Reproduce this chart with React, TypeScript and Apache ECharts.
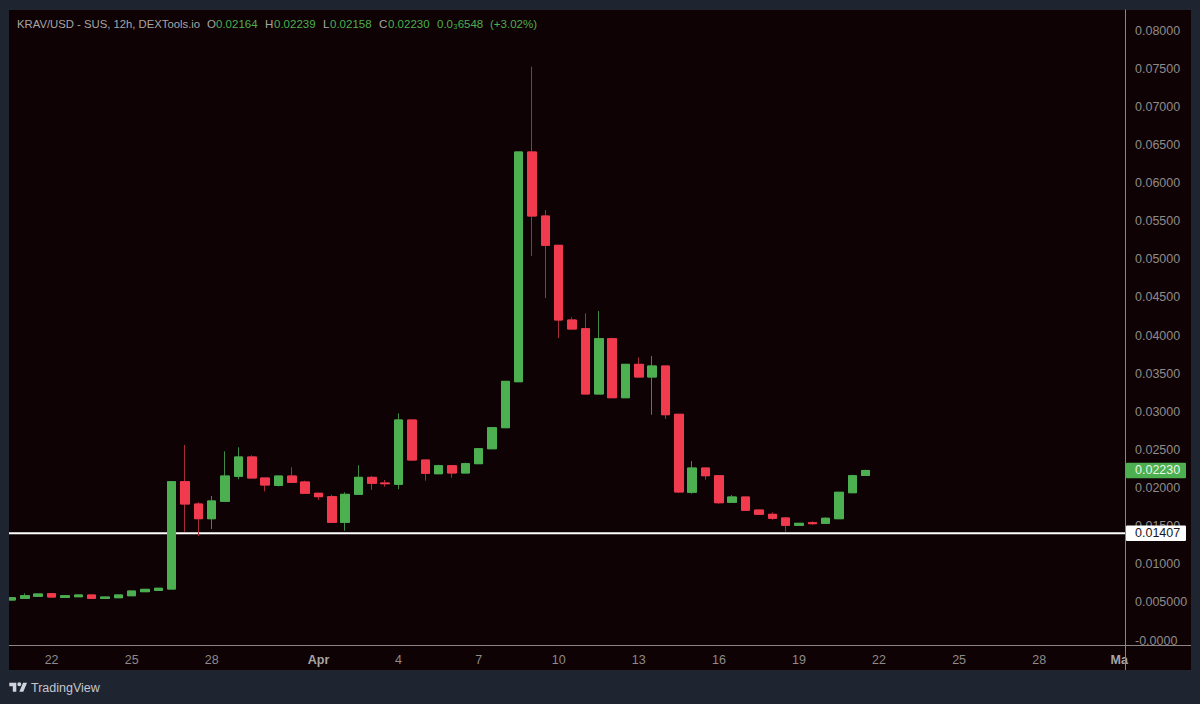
import React, { useEffect, useRef } from "react";
import * as echarts from "echarts";

const opens = [
  0.00531, 0.00553, 0.0058, 0.00614, 0.00566, 0.00574, 0.00597, 0.00553, 0.00561, 0.00587, 0.0064, 0.00658, 0.00675,
  0.02083, 0.0179, 0.01597, 0.01826, 0.02154, 0.02407, 0.02131, 0.02034, 0.02157, 0.02079, 0.01931, 0.01886, 0.0155,
  0.01917, 0.0214, 0.02066, 0.02049, 0.02892, 0.02367, 0.02187, 0.02292, 0.02197, 0.02319, 0.02515, 0.02791, 0.03394,
  0.06407, 0.05567, 0.05183, 0.04203, 0.04089, 0.03233, 0.03958, 0.03184, 0.03622, 0.03456, 0.036, 0.02967, 0.01944,
  0.02262, 0.02161, 0.01813, 0.01882, 0.01711, 0.01655, 0.01607, 0.01511, 0.01545, 0.01537, 0.01597, 0.01938, 0.02164,
];
const closes = [
  0.00561, 0.00587, 0.0061, 0.0057, 0.00587, 0.00597, 0.00553, 0.0057, 0.00597, 0.00649, 0.00671, 0.00685, 0.02083,
  0.0179, 0.01597, 0.0183, 0.02157, 0.02407, 0.02131, 0.02039, 0.02157, 0.02075, 0.01931, 0.01886, 0.0155, 0.01917,
  0.0214, 0.02062, 0.02056, 0.02892, 0.02367, 0.02193, 0.02292, 0.02197, 0.02319, 0.02515, 0.02791, 0.03399, 0.06407,
  0.05567, 0.05183, 0.04203, 0.04085, 0.03233, 0.03958, 0.03184, 0.03622, 0.03456, 0.036, 0.02961, 0.01948, 0.02262,
  0.02161, 0.01807, 0.01882, 0.01708, 0.01655, 0.01603, 0.01511, 0.01537, 0.01532, 0.01603, 0.01944, 0.02161, 0.0223,
];
const lows = [
  0.00531, 0.00553, 0.0058, 0.0057, 0.00566, 0.00574, 0.00553, 0.00553, 0.00561, 0.00587, 0.0064, 0.00658, 0.00675,
  0.01427, 0.0137, 0.01462, 0.01826, 0.02114, 0.02131, 0.01957, 0.0202, 0.02075, 0.01931, 0.01843, 0.0155, 0.0144,
  0.01917, 0.01974, 0.02017, 0.01983, 0.02354, 0.02096, 0.02187, 0.02135, 0.02197, 0.02319, 0.02515, 0.02791, 0.03394,
  0.05043, 0.04492, 0.03967, 0.04085, 0.03233, 0.03233, 0.03184, 0.03184, 0.03456, 0.02961, 0.02905, 0.01934, 0.01925,
  0.02109, 0.01793, 0.01813, 0.01708, 0.01655, 0.01584, 0.01427, 0.01511, 0.01519, 0.01537, 0.01597, 0.01938, 0.02158,
];
const highs = [
  0.00561, 0.00619, 0.0061, 0.00614, 0.00587, 0.00597, 0.00597, 0.0057, 0.00597, 0.00649, 0.00671, 0.00685, 0.02083,
  0.02564, 0.01816, 0.01895, 0.02481, 0.02534, 0.02429, 0.02131, 0.02157, 0.02271, 0.02096, 0.01931, 0.01912, 0.01944,
  0.02298, 0.02157, 0.02105, 0.0298, 0.02892, 0.02367, 0.02305, 0.02292, 0.02332, 0.02515, 0.02791, 0.03399, 0.06407,
  0.07525, 0.05646, 0.05183, 0.04239, 0.04291, 0.04321, 0.03971, 0.03622, 0.03714, 0.03731, 0.036, 0.02967, 0.02354,
  0.02262, 0.02161, 0.01908, 0.01882, 0.01711, 0.01681, 0.0162, 0.01537, 0.01563, 0.01616, 0.01944, 0.02174, 0.02239,
];
const xTickIndexes = [3, 9, 15, 23, 29, 35, 41, 47, 53, 59, 65, 71, 77, 83];
const xTickLabels = ["22", "25", "28", "Apr", "4", "7", "10", "13", "16", "19", "22", "25", "28", "Ma"];
const monthLabels = ["Apr", "Ma"];
const yTickValues = [0, 0.005, 0.01, 0.015, 0.02, 0.025, 0.03, 0.035, 0.04, 0.045, 0.05, 0.055, 0.06, 0.065, 0.07, 0.075, 0.08];
const yTickLabels = [
  "-0.0000", "0.005000", "0.01000", "0.01500", "0.02000", "0.02500", "0.03000", "0.03500", "0.04000", "0.04500",
  "0.05000", "0.05500", "0.06000", "0.06500", "0.07000", "0.07500", "0.08000",
];
const supportLevel = 0.01407;
const lastClose = 0.0223;
const X_MIN = -0.191;
const X_MAX = 83.43;

const UP = "#4caf50";
const DOWN = "#f23a4e";
const UP_WICK = "#3f8a45";
const DOWN_WICK = "#a52c3c";
const OUTER = "#1e2430";
const PANEL = "#0e0205";
const AXIS = "#8a8583";
const TEXT = "#8f8b89";
const FONT = "'Liberation Sans', Arial, sans-serif";

const headerParts: [string, number, string, number][] = [
  ["KRAV/USD - SUS, 12h, DEXTools.io", 17, "#a8a5a3", 11.3],
  ["O", 207, "#a8a5a3", 11.5],
  ["0.02164", 216, UP, 11.5],
  ["H", 265, "#a8a5a3", 11.5],
  ["0.02239", 274, UP, 11.5],
  ["L", 323, "#a8a5a3", 11.5],
  ["0.02158", 330, UP, 11.5],
  ["C", 379, "#a8a5a3", 11.5],
  ["0.02230", 388, UP, 11.5],
  ["0.0₃6548", 437, UP, 11.5],
  ["(+3.02%)", 490, UP, 11.5],
];

echarts.graphic.registerShape(
  "tvLogo",
  echarts.graphic.extendPath("M14 22H7V11H0V4h14v18zM28 22h-8l7.5-18h8L28 22zM24 7a4 4 0 1 1-8 0 4 4 0 0 1 8 0z", {})
);

export default function App() {
  const ref = useRef<HTMLDivElement>(null);
  useEffect(() => {
    document.body.style.margin = "0";
    const chart = echarts.init(ref.current!, undefined, { renderer: "svg" });
    const wickData = opens.map((o, i) => [i, o, closes[i], lows[i], highs[i]]);
    const bodyData = opens.map((o, i) => [i, o, closes[i], Math.min(o, closes[i]), Math.max(o, closes[i])]);
    const candle = (data: number[][], upBorder: string, downBorder: string) => ({
      type: "candlestick",
      z: 10,
      barWidth: 9,
      encode: { x: 0, y: [1, 2, 3, 4] },
      data,
      itemStyle: {
        color: UP,
        color0: DOWN,
        borderColor: upBorder,
        borderColor0: downBorder,
        borderColorDoji: downBorder,
        borderWidth: 1,
      },
    });
    const level = (name: string, value: number, bg: string, fg: string, lineStyle: any) => ({
      type: "line",
      name,
      z: 5,
      symbol: "none",
      lineStyle,
      data: [
        [X_MIN, value],
        [X_MAX, value],
      ],
      endLabel: {
        show: true,
        distance: 1,
        formatter: value.toFixed(5),
        color: fg,
        fontFamily: FONT,
        fontSize: 12.5,
        backgroundColor: bg,
        borderRadius: 1,
        width: 51,
        height: 15.5,
        lineHeight: 15.5,
        padding: [0, 0, 0, 9],
        align: "left",
        verticalAlign: "middle",
      },
    });
    chart.setOption({
      animation: false,
      backgroundColor: OUTER,
      grid: { left: 9, top: 10, width: 1116, height: 635, outerBoundsMode: "none", show: false },
      xAxis: {
        type: "value",
        min: X_MIN,
        max: X_MAX,
        splitLine: { show: false },
        axisTick: { show: false },
        axisLine: { show: true, onZero: false, lineStyle: { color: AXIS, width: 1 } },
        axisLabel: {
          customValues: xTickIndexes,
          margin: 8,
          fontFamily: FONT,
          fontSize: 12.5,
          color: TEXT,
          formatter: (v: number) => {
            const t = xTickLabels[xTickIndexes.indexOf(v)];
            return monthLabels.includes(t) ? `{m|${t}}` : t;
          },
          rich: { m: { fontFamily: FONT, fontSize: 12.5, fontWeight: "bold", color: "#a8a5a3" } },
        },
      },
      yAxis: {
        type: "value",
        position: "right",
        min: -0.00059,
        max: 0.08269,
        splitLine: { show: false },
        axisTick: { show: false },
        axisLine: { show: true, onZero: false, lineStyle: { color: AXIS, width: 1 } },
        axisLabel: {
          customValues: yTickValues,
          margin: 10,
          fontFamily: FONT,
          fontSize: 12.5,
          color: TEXT,
          formatter: (v: number) => yTickLabels[yTickValues.indexOf(v)],
        },
      },
      series: [
        level("Last", lastClose, UP, "#e8f5e9", { opacity: 0, width: 0 }),
        level("Level", supportLevel, "#ffffff", "#131722", { color: "#ffffff", width: 2, type: "solid" }),
        candle(wickData, UP_WICK, DOWN_WICK),
        candle(bodyData, UP, DOWN),
      ],
      graphic: {
        elements: [
          { type: "rect", z: -1, shape: { x: 9, y: 10, width: 1182, height: 660 }, style: { fill: PANEL } },
          { type: "rect", z: 15, shape: { x: 0, y: 10, width: 9, height: 660 }, style: { fill: OUTER } },
          { type: "line", z: 3, shape: { x1: 1125, y1: 645.5, x2: 1191, y2: 645.5 }, style: { stroke: AXIS, lineWidth: 1 } },
          { type: "line", z: 3, shape: { x1: 1125.5, y1: 645, x2: 1125.5, y2: 670 }, style: { stroke: AXIS, lineWidth: 1 } },
          ...headerParts.map(([text, x, fill, size]) => ({
            type: "text",
            z: 20,
            x,
            y: 23.5,
            style: { text, fill, fontFamily: FONT, fontSize: size, verticalAlign: "middle" },
          })),
          { type: "tvLogo", z: 20, x: 9.3, y: 680.7, scaleX: 0.5, scaleY: 0.5, style: { fill: "#d1d4dc" } },
          {
            type: "text",
            z: 20,
            x: 31,
            y: 688,
            style: { text: "TradingView", fill: "#c4c7cf", fontFamily: FONT, fontSize: 12.5, verticalAlign: "middle" },
          },
        ],
      },
    });
    return () => chart.dispose();
  }, []);
  return <div ref={ref} style={{ position: "absolute", left: 0, top: 0, width: 1200, height: 704 }} />;
}
